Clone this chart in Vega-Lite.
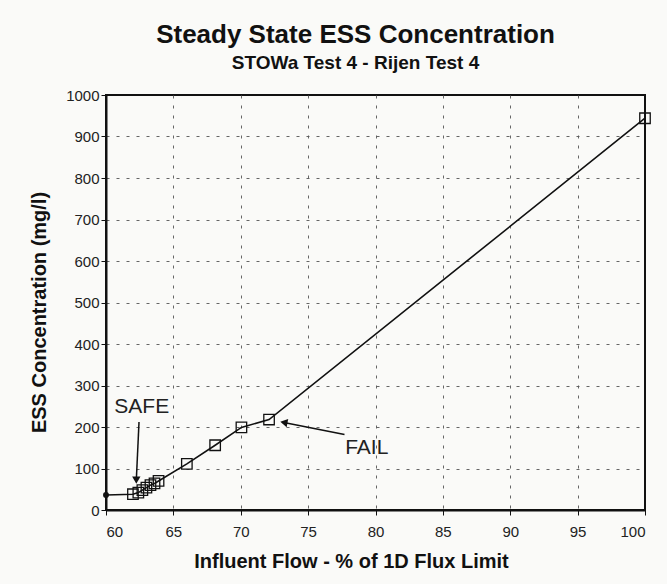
{
  "$schema": "https://vega.github.io/schema/vega-lite/v6.json",
  "width": 539,
  "height": 415,
  "autosize": {"type": "none"},
  "padding": {"left": 106, "top": 95, "right": 22, "bottom": 74},
  "background": "#fafaf8",
  "title": {
    "text": "Steady State ESS Concentration",
    "subtitle": "STOWa Test 4 - Rijen Test 4",
    "font": "Liberation Sans",
    "fontSize": 26,
    "fontWeight": "bold",
    "color": "#111",
    "subtitleFont": "Liberation Sans",
    "subtitleFontSize": 19,
    "subtitleFontWeight": "bold",
    "subtitleColor": "#111",
    "subtitlePadding": 6,
    "anchor": "middle",
    "dx": -20,
    "offset": 15
  },
  "config": {
    "view": {"stroke": "#111", "strokeWidth": 2},
    "axis": {
      "labelFont": "Liberation Sans",
      "labelFontSize": 15,
      "labelColor": "#222",
      "titleFont": "Liberation Sans",
      "titleFontSize": 20,
      "titleFontWeight": "bold",
      "titleColor": "#111",
      "domainColor": "#111",
      "domainWidth": 2,
      "tickColor": "#111",
      "tickSize": 5,
      "gridColor": "#555",
      "gridDash": [3, 7],
      "gridWidth": 1
    }
  },
  "datasets": {
    "main": [
      {"x": 60, "y": 36},
      {"x": 62.0, "y": 38},
      {"x": 62.4, "y": 42},
      {"x": 62.7, "y": 48},
      {"x": 63.0, "y": 54},
      {"x": 63.3, "y": 60},
      {"x": 63.6, "y": 64},
      {"x": 63.9, "y": 70},
      {"x": 66, "y": 111},
      {"x": 68.1, "y": 156},
      {"x": 70.05, "y": 199},
      {"x": 72.1, "y": 218},
      {"x": 100, "y": 944}
    ],
    "arrows": [
      {"name": "SAFE", "x": 62.45, "y": 212, "x2": 62.25, "y2": 72},
      {"name": "FAIL", "x": 77.7, "y": 182, "x2": 73.2, "y2": 211}
    ],
    "labels": [
      {"label": "SAFE", "x": 62.65, "y": 248},
      {"label": "FAIL", "x": 79.35, "y": 150}
    ]
  },
  "layer": [
    {
      "data": {"name": "main"},
      "mark": {"type": "line", "color": "#111", "strokeWidth": 1.6},
      "encoding": {
        "x": {
          "field": "x", "type": "quantitative",
          "scale": {"domain": [60, 100], "nice": false, "zero": false},
          "axis": {
            "title": "Influent Flow - % of 1D Flux Limit",
            "values": [60, 65, 70, 75, 80, 85, 90, 95, 100],
            "labelPadding": 9,
            "titlePadding": 12,
            "titleX": 245,
            "grid": true,
            "gridOpacity": {"condition": {"test": "datum.value == 60 || datum.value == 100", "value": 0}, "value": 0.9}
          }
        },
        "y": {
          "field": "y", "type": "quantitative",
          "scale": {"domain": [0, 1000], "nice": false},
          "axis": {
            "title": "ESS Concentration (mg/l)",
            "format": "d",
            "values": [0, 100, 200, 300, 400, 500, 600, 700, 800, 900, 1000],
            "labelPadding": 2,
            "titlePadding": 16,
            "titleY": 217,
            "grid": true,
            "gridOpacity": {"condition": {"test": "datum.value == 0 || datum.value == 1000", "value": 0}, "value": 0.9}
          }
        }
      }
    },
    {
      "data": {"name": "main"},
      "transform": [{"filter": "datum.x > 60"}],
      "mark": {"type": "point", "shape": "square", "filled": false, "size": 110, "stroke": "#111", "strokeWidth": 1.3, "opacity": 1},
      "encoding": {
        "x": {"field": "x", "type": "quantitative"},
        "y": {"field": "y", "type": "quantitative"}
      }
    },
    {
      "data": {"name": "main"},
      "transform": [{"filter": "datum.x <= 60"}],
      "mark": {"type": "point", "shape": "circle", "filled": true, "size": 35, "color": "#111", "opacity": 1, "clip": false},
      "encoding": {
        "x": {"field": "x", "type": "quantitative"},
        "y": {"field": "y", "type": "quantitative"}
      }
    },
    {
      "data": {"name": "arrows"},
      "mark": {"type": "rule", "color": "#111", "strokeWidth": 1.5},
      "encoding": {
        "x": {"field": "x", "type": "quantitative"},
        "y": {"field": "y", "type": "quantitative"},
        "x2": {"field": "x2"},
        "y2": {"field": "y2"}
      }
    },
    {
      "data": {"name": "arrows"},
      "transform": [{"filter": "datum.name == 'SAFE'"}],
      "mark": {"type": "point", "shape": "triangle-down", "filled": true, "size": 70, "color": "#111", "opacity": 1},
      "encoding": {
        "x": {"field": "x2", "type": "quantitative"},
        "y": {"field": "y2", "type": "quantitative"}
      }
    },
    {
      "data": {"name": "arrows"},
      "transform": [{"filter": "datum.name == 'FAIL'"}],
      "mark": {"type": "point", "shape": "triangle-left", "angle": 11, "filled": true, "size": 70, "color": "#111", "opacity": 1},
      "encoding": {
        "x": {"field": "x2", "type": "quantitative"},
        "y": {"field": "y2", "type": "quantitative"}
      }
    },
    {
      "data": {"name": "labels"},
      "mark": {"type": "text", "font": "Liberation Sans", "fontSize": 21, "color": "#222", "align": "center", "baseline": "middle"},
      "encoding": {
        "x": {"field": "x", "type": "quantitative"},
        "y": {"field": "y", "type": "quantitative"},
        "text": {"field": "label"}
      }
    }
  ]
}
